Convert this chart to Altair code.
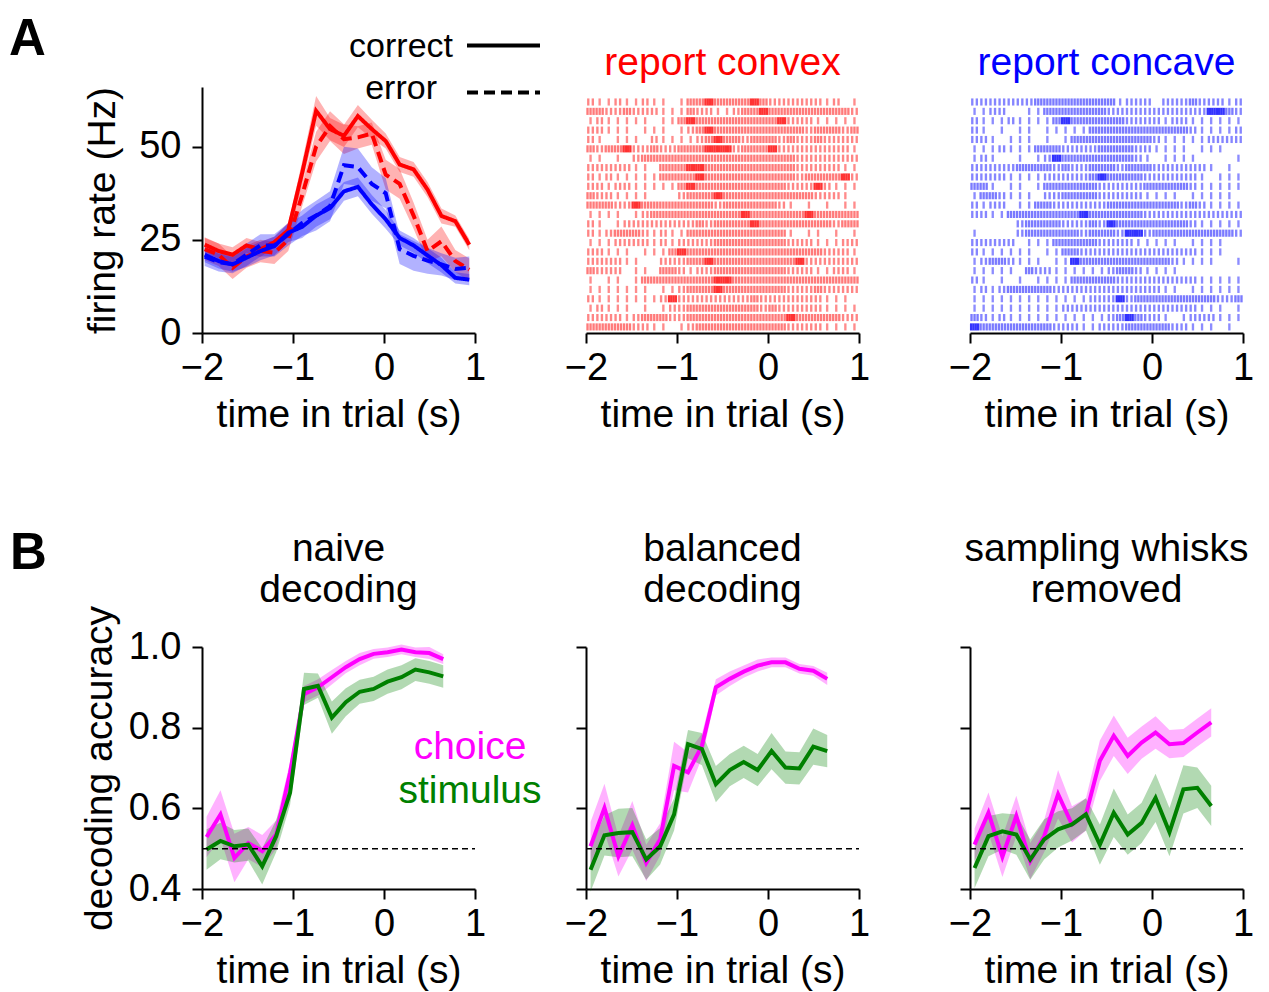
import altair as alt
import pandas as pd

FONT = "Liberation Sans"

# ---------------- panel A: firing rate ----------------
TIME_A = [-1.970, -1.817, -1.664, -1.511, -1.358, -1.205, -1.052, -0.899, -0.746, -0.593,
          -0.440, -0.287, -0.134, 0.019, 0.172, 0.325, 0.478, 0.631, 0.784, 0.937]
RED_CORRECT = [23.7, 22.0, 21.0, 23.5, 22.4, 24.4, 27.6, 43.0, 59.6, 54.7,
               52.9, 58.2, 54.7, 51.5, 45.2, 43.9, 38.5, 31.4, 30.0, 23.7]
RED_CORRECT_SEM = [2, 2, 2, 2, 2, 1.5, 2, 3, 4, 3, 3, 3, 2.5, 2, 2, 2, 2, 2, 1.5, 1.5]
RED_ERROR = [22.5, 21.0, 17.5, 20.5, 22.0, 21.5, 25.0, 37.0, 50.0, 55.5,
             52.0, 52.5, 53.5, 42.5, 40.0, 31.5, 22.0, 24.6, 19.3, 17.0]
RED_ERROR_SEM = [3, 3, 3, 3, 3, 3, 3, 3, 4, 4, 4, 3, 3, 4, 4, 3.5, 3, 4, 3, 3]
BLUE_CORRECT = [21.0, 19.3, 18.4, 20.2, 22.0, 23.3, 26.9, 28.5, 31.5, 33.5,
                38.0, 39.2, 34.5, 30.5, 25.5, 23.5, 20.8, 18.2, 14.8, 14.3]
BLUE_CORRECT_SEM = [2, 2, 2, 2.5, 2.5, 2.5, 2.5, 3, 3, 3, 2.5, 2.5, 2.5, 2.5, 2, 2, 2, 2, 1.5, 1.5]
BLUE_ERROR = [20.5, 19.0, 18.5, 21.0, 23.5, 23.5, 26.5, 29.5, 31.5, 34.0,
              45.0, 44.5, 40.0, 37.5, 22.5, 20.7, 19.4, 18.4, 17.2, 17.5]
BLUE_ERROR_SEM = [2.5, 2.5, 2.5, 3, 3, 3, 3, 3.5, 4, 4, 5, 5, 4.5, 4, 4, 4, 3.5, 3, 3, 3]

# ---------------- rasters (spike counts per 0.1 s bin, one string per trial) ----------------
RASTER_T0 = -2.0
RASTER_BIN = 0.1
RED_RASTER = [
    "2112112110" "1334333343" "2222221201",
    "3322322211" "1322112334" "3333333332",
    "1211111011" "3433333333" "3422211111",
    "2211101110" "1234333333" "3333233323",
    "2101110211" "1123433233" "3232232222",
    "3233422322" "3334442333" "4222222221",
    "1101023333" "3333333333" "3332222222",
    "2222211033" "3443333333" "3332222211",
    "2121111133" "3343333333" "3332333342",
    "2212211111" "3433333333" "3322242111",
    "3221111000" "2333433333" "3333322210",
    "3332243333" "3333233333" "3210101011",
    "1111012333" "3333333433" "3333433333",
    "2101222222" "2232333343" "3333333233",
    "2123332121" "1333333333" "3310110101",
    "1112222121" "2222333333" "3322211122",
    "2211101113" "4333333333" "3333332221",
    "2222110022" "2334333333" "3334222222",
    "3222011033" "2122333333" "3322211221",
    "1011013333" "3333443333" "3333333333",
    "1111111011" "2333433333" "3322232222",
    "2111111124" "2222222232" "2222221110",
    "1211101012" "2333333332" "3222221111",
    "2222123332" "2333333333" "3343333322",
    "3333322110" "1233333333" "3322221111",
]
BLUE_RASTER = [
    "2222222333" "3333331222" "0222322212",
    "1122001133" "3333322222" "2222224432",
    "2111211113" "4333333222" "2122111111",
    "2101011011" "1113333333" "3333211112",
    "2210111010" "1333333333" "2111112222",
    "1112111333" "2222333322" "1111011100",
    "1210010124" "3333333321" "0111100001",
    "2222233332" "3223332333" "2222221010",
    "2222111122" "2223433332" "2222210111",
    "3310110133" "3333222223" "3333211111",
    "1332111022" "3333222221" "1110111110",
    "2122011332" "2222233333" "3332321111",
    "2211333333" "3343333332" "2222222222",
    "0000023333" "2223243333" "3333211111",
    "1000023333" "3323332442" "3333333332",
    "2222201113" "3333222211" "1110111100",
    "2111111011" "3322222222" "2222211100",
    "1233211101" "1433333333" "3321111001",
    "1111103221" "1111123321" "1110000000",
    "2101010111" "1333332222" "2222211111",
    "1212333332" "2222222222" "2110111111",
    "1111111111" "1112224233" "3333333223",
    "1111111111" "2222222222" "2222211101",
    "3212111111" "1111123432" "2101222111",
    "4333333332" "2211222333" "3322111010",
]

# ---------------- panel B: decoding accuracy ----------------
TIME_B = [-1.950, -1.797, -1.644, -1.491, -1.338, -1.185, -1.032, -0.879, -0.726,
          -0.573, -0.420, -0.267, -0.114, 0.039, 0.192, 0.345, 0.498, 0.651]
NAIVE_CHOICE = [0.529, 0.585, 0.477, 0.514, 0.494, 0.535, 0.689, 0.883, 0.900,
                0.925, 0.950, 0.970, 0.983, 0.987, 0.994, 0.987, 0.985, 0.970]
NAIVE_CHOICE_SEM = [0.05, 0.06, 0.06, 0.04, 0.04, 0.035, 0.025, 0.02, 0.02,
                    0.018, 0.015, 0.015, 0.012, 0.012, 0.012, 0.012, 0.015, 0.012]
NAIVE_STIM = [0.498, 0.519, 0.506, 0.510, 0.456, 0.531, 0.639, 0.896, 0.904,
              0.825, 0.863, 0.889, 0.896, 0.914, 0.925, 0.944, 0.937, 0.927]
NAIVE_STIM_SEM = [0.05, 0.045, 0.04, 0.04, 0.045, 0.04, 0.03, 0.04, 0.03,
                  0.04, 0.035, 0.03, 0.03, 0.03, 0.03, 0.028, 0.028, 0.028]
BAL_CHOICE = [0.506, 0.601, 0.481, 0.558, 0.465, 0.523, 0.705, 0.689, 0.755,
              0.900, 0.921, 0.939, 0.954, 0.962, 0.962, 0.946, 0.941, 0.921]
BAL_CHOICE_SEM = [0.06, 0.06, 0.05, 0.06, 0.045, 0.04, 0.06, 0.05, 0.03,
                  0.02, 0.018, 0.015, 0.015, 0.012, 0.012, 0.012, 0.012, 0.015]
BAL_STIM = [0.448, 0.533, 0.539, 0.541, 0.473, 0.506, 0.585, 0.759, 0.747,
            0.660, 0.695, 0.715, 0.695, 0.742, 0.701, 0.699, 0.753, 0.742]
BAL_STIM_SEM = [0.055, 0.05, 0.06, 0.06, 0.05, 0.045, 0.04, 0.035, 0.04,
                0.045, 0.04, 0.04, 0.04, 0.045, 0.04, 0.04, 0.045, 0.04]
WR_CHOICE = [0.510, 0.589, 0.480, 0.581, 0.469, 0.531, 0.635, 0.560, 0.585,
             0.718, 0.780, 0.730, 0.763, 0.788, 0.759, 0.762, 0.788, 0.813]
WR_CHOICE_SEM = [0.04, 0.05, 0.05, 0.05, 0.045, 0.04, 0.06, 0.045, 0.04,
                 0.05, 0.05, 0.045, 0.04, 0.04, 0.035, 0.035, 0.035, 0.035]
WR_STIM = [0.452, 0.531, 0.543, 0.535, 0.473, 0.523, 0.548, 0.560, 0.585,
           0.510, 0.589, 0.535, 0.564, 0.626, 0.541, 0.647, 0.651, 0.606]
WR_STIM_SEM = [0.05, 0.05, 0.045, 0.05, 0.05, 0.05, 0.045, 0.04, 0.04,
               0.05, 0.06, 0.05, 0.05, 0.06, 0.06, 0.06, 0.05, 0.05]
CHANCE = 0.5
B_TITLES = [["naive", "decoding"], ["balanced", "decoding"], ["sampling whisks", "removed"]]

X_TICKS = [-2, -1, 0, 1]
X_DOMAIN = [-2, 1]
A_TICKS = [0, 25, 50]
A_DOMAIN = [0, 66]
B_TICKS = [0.4, 0.6, 0.8, 1.0]
B_DOMAIN = [0.4, 1.0]

RED, BLUE, MAGENTA, GREEN = "#ff0000", "#0000ff", "#ff00ff", "#008000"
W = 273
HA = 246
HB = 242
ROW_GAP = 314

# ---------------- helpers ----------------
XS = alt.Scale(domain=X_DOMAIN, nice=False, zero=False)
AX_X = alt.Axis(values=X_TICKS, format="d", title="time in trial (s)")


def xenc(field="t"):
    return alt.X(f"{field}:Q", scale=XS, axis=AX_X)


def frame(times, groups):
    recs = []
    for name, c, k, mean, sem in groups:
        for t, m, s in zip(times, mean, sem):
            recs.append(dict(t=t, v=m, lo=m - s, hi=m + s, cond=c, kind=k, series=name))
    return pd.DataFrame(recs)


def text_layer(txt, x, y, size, color="black", align="left", weight="normal"):
    return alt.Chart(pd.DataFrame({"k": [0]})).mark_text(
        text=txt, font=FONT, fontSize=size, color=color, align=align,
        baseline="alphabetic", fontWeight=weight
    ).encode(x=alt.value(x), y=alt.value(y))


# ---------------- A1 ----------------
dfA = frame(TIME_A, [
    ("rc", "convex", "correct", RED_CORRECT, RED_CORRECT_SEM),
    ("re", "convex", "error", RED_ERROR, RED_ERROR_SEM),
    ("bc", "concave", "correct", BLUE_CORRECT, BLUE_CORRECT_SEM),
    ("be", "concave", "error", BLUE_ERROR, BLUE_ERROR_SEM),
])
YSA = alt.Scale(domain=A_DOMAIN, nice=False, zero=False)
AX_YA = alt.Axis(values=A_TICKS, title="firing rate (Hz)", labelPadding=11, titlePadding=16)
COL_A = alt.Scale(domain=["convex", "concave"], range=[RED, BLUE])
DASH = alt.Scale(domain=["correct", "error"], range=[[1, 0], [11, 6]])

a_band = alt.Chart(dfA).mark_area(opacity=0.3).encode(
    x=xenc(), y=alt.Y("lo:Q", scale=YSA, axis=AX_YA), y2="hi:Q",
    color=alt.Color("cond:N", scale=COL_A, legend=None), detail="series:N")
a_line = alt.Chart(dfA).mark_line(strokeWidth=4).encode(
    x=xenc(), y=alt.Y("v:Q", scale=YSA, axis=AX_YA),
    color=alt.Color("cond:N", scale=COL_A, legend=None),
    strokeDash=alt.StrokeDash("kind:N", scale=DASH, legend=None), detail="series:N")
leg_solid = alt.Chart(pd.DataFrame({"k": [0]})).mark_rule(color="black", strokeWidth=4).encode(
    x=alt.value(265), x2=alt.value(338), y=alt.value(-41.5))
leg_dash = alt.Chart(pd.DataFrame({"k": [0]})).mark_rule(
    color="black", strokeWidth=4, strokeDash=[11, 6]).encode(
    x=alt.value(265), x2=alt.value(338), y=alt.value(5.5))
A1 = alt.layer(
    a_band, a_line, leg_solid, leg_dash,
    text_layer("correct", 251, -30, 34, align="right"),
    text_layer("error", 235, 12, 34, align="right"),
    text_layer("A", -193, -32, 51, weight="bold"),
    # panel letter B sits left of the lower row; kept here so it does not push B1's title
    text_layer("B", -192, HA + ROW_GAP - 78, 51, weight="bold"),
).properties(width=W, height=HA)


# ---------------- rasters ----------------
OPAC = {1: 0.45, 2: 0.48, 3: 0.52, 4: 0.8}


def raster(rows, color, title):
    recs = []
    for r, s in enumerate(rows):
        for b, ch in enumerate(s):
            n = int(ch)
            for j in range(n):
                x = RASTER_T0 + RASTER_BIN * (b + (j + 0.5) / n)
                recs.append(dict(x0=x - 0.013, x1=x + 0.013, r0=r - 0.38, r1=r + 0.38, op=OPAC[n]))
    df = pd.DataFrame(recs)
    ys = alt.Scale(domain=[-1.6, len(rows) - 0.35], nice=False, zero=False, reverse=True)
    return alt.Chart(df).mark_rect(color=color).encode(
        x=alt.X("x0:Q", scale=XS, axis=AX_X), x2="x1:Q",
        y=alt.Y("r0:Q", scale=ys, axis=None), y2="r1:Q",
        opacity=alt.Opacity("op:Q", scale=None),
    ).properties(width=W, height=HA, title=alt.TitleParams(
        text=title, color=color, font=FONT, fontSize=39, fontWeight="normal",
        anchor="middle", frame="group", offset=4))


A2 = raster(RED_RASTER, RED, "report convex")
A3 = raster(BLUE_RASTER, BLUE, "report concave")

# ---------------- B panels ----------------
YSB = alt.Scale(domain=B_DOMAIN, nice=False, zero=False)
COL_B = alt.Scale(domain=["choice", "stimulus"], range=[MAGENTA, GREEN])


def bpanel(choice, csem, stim, ssem, title, first):
    df = frame(TIME_B, [("c", "choice", "", choice, csem), ("s", "stimulus", "", stim, ssem)])
    if first:
        ax = alt.Axis(values=B_TICKS, format=".1f", title="decoding accuracy",
                      labelPadding=11, titlePadding=9)
        toff = -5  # the long y-axis title reaches above the plot; compensate
    else:
        ax = alt.Axis(values=B_TICKS, labels=False, title=None)
        toff = 36
    band = alt.Chart(df).mark_area(opacity=0.3).encode(
        x=xenc(), y=alt.Y("lo:Q", scale=YSB, axis=ax), y2="hi:Q",
        color=alt.Color("cond:N", scale=COL_B, legend=None), detail="series:N")
    line = alt.Chart(df).mark_line(strokeWidth=4).encode(
        x=xenc(), y=alt.Y("v:Q", scale=YSB, axis=ax),
        color=alt.Color("cond:N", scale=COL_B, legend=None), detail="series:N")
    chance = alt.Chart(pd.DataFrame({"t": [X_DOMAIN[0]], "t2": [X_DOMAIN[1]], "v": [CHANCE]})).mark_rule(
        color="black", strokeWidth=1.5, strokeDash=[6, 4]).encode(
        x=xenc(), x2="t2:Q", y=alt.Y("v:Q", scale=YSB, axis=ax))
    layers = [band, line, chance]
    if first:
        layers += [text_layer("choice", 268, 112, 39, color=MAGENTA, align="center"),
                   text_layer("stimulus", 268, 156, 39, color=GREEN, align="center")]
    return alt.layer(*layers).properties(
        width=W, height=HB,
        title=alt.TitleParams(text=title, font=FONT, fontSize=39, fontWeight="normal",
                              color="black", anchor="middle", frame="group",
                              offset=toff, lineHeight=41))


B1 = bpanel(NAIVE_CHOICE, NAIVE_CHOICE_SEM, NAIVE_STIM, NAIVE_STIM_SEM, B_TITLES[0], True)
B2 = bpanel(BAL_CHOICE, BAL_CHOICE_SEM, BAL_STIM, BAL_STIM_SEM, B_TITLES[1], False)
B3 = bpanel(WR_CHOICE, WR_CHOICE_SEM, WR_STIM, WR_STIM_SEM, B_TITLES[2], False)

chart = alt.concat(
    A1, A2, A3, B1, B2, B3, columns=3,
    spacing={"row": ROW_GAP, "column": 111}, bounds="flush"
).resolve_scale(color="independent", strokeDash="independent").properties(
    padding={"left": 1, "top": 6, "right": 5, "bottom": 2}
).configure_view(stroke=None).configure_axis(
    grid=False, domainColor="black", domainWidth=2, tickColor="black", tickWidth=2,
    tickSize=10, labelFont=FONT, labelFontSize=38, labelColor="black",
    titleFont=FONT, titleFontSize=39, titleFontWeight="normal", titleColor="black",
    labelFlush=False, labelOverlap=False
).configure_axisX(labelPadding=6, titlePadding=8)

chart.save("out.html", embed_options={"renderer": "svg", "actions": False})
